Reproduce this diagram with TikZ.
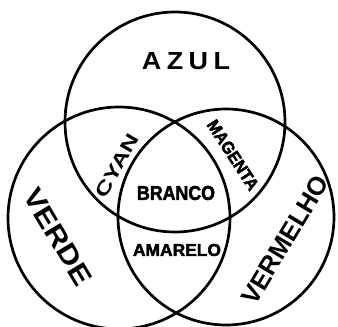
\documentclass[tikz,border=0pt]{standalone}
\usepackage{fontspec}
\setmainfont{Liberation Sans}
\begin{document}
\begin{tikzpicture}[x=1pt,y=-1pt,
  circ/.style={line width=2.7pt},
  lbl/.style={inner sep=0pt, font=\bfseries},
  heavy/.style={inner sep=0pt, font=\bfseries\addfontfeature{FakeBold=2.5}}]
\useasboundingbox (0,0) rectangle (338,327);
\clip (0,0) rectangle (338,327);
\draw[circ] (175,122) circle [radius=110pt];
\draw[circ] (119,218) circle [radius=111pt];
\draw[circ] (226,217) circle [radius=108pt];
\node[lbl] (azul) at (186,61) {\resizebox{88pt}{17pt}{\addfontfeature{LetterSpace=20}AZUL}};
\node[lbl, rotate=60] (cyan) at (117,166) {\resizebox{70pt}{13pt}{CYAN}};
\node[heavy, rotate=-57] (magenta) at (233,155) {\resizebox{80pt}{12pt}{MAGENTA}};
\node[heavy] (branco) at (176,193) {\resizebox{78pt}{14pt}{BRANCO}};
\node[heavy] (amarelo) at (177,250) {\resizebox{88pt}{12pt}{AMARELO}};
\node[lbl, rotate=-59] (verde) at (58,237) {\resizebox{108pt}{19pt}{VERDE}};
\node[lbl, rotate=59] (vermelho) at (285,240) {\resizebox{145pt}{18pt}{VERMELHO}};
\end{tikzpicture}
\end{document}
